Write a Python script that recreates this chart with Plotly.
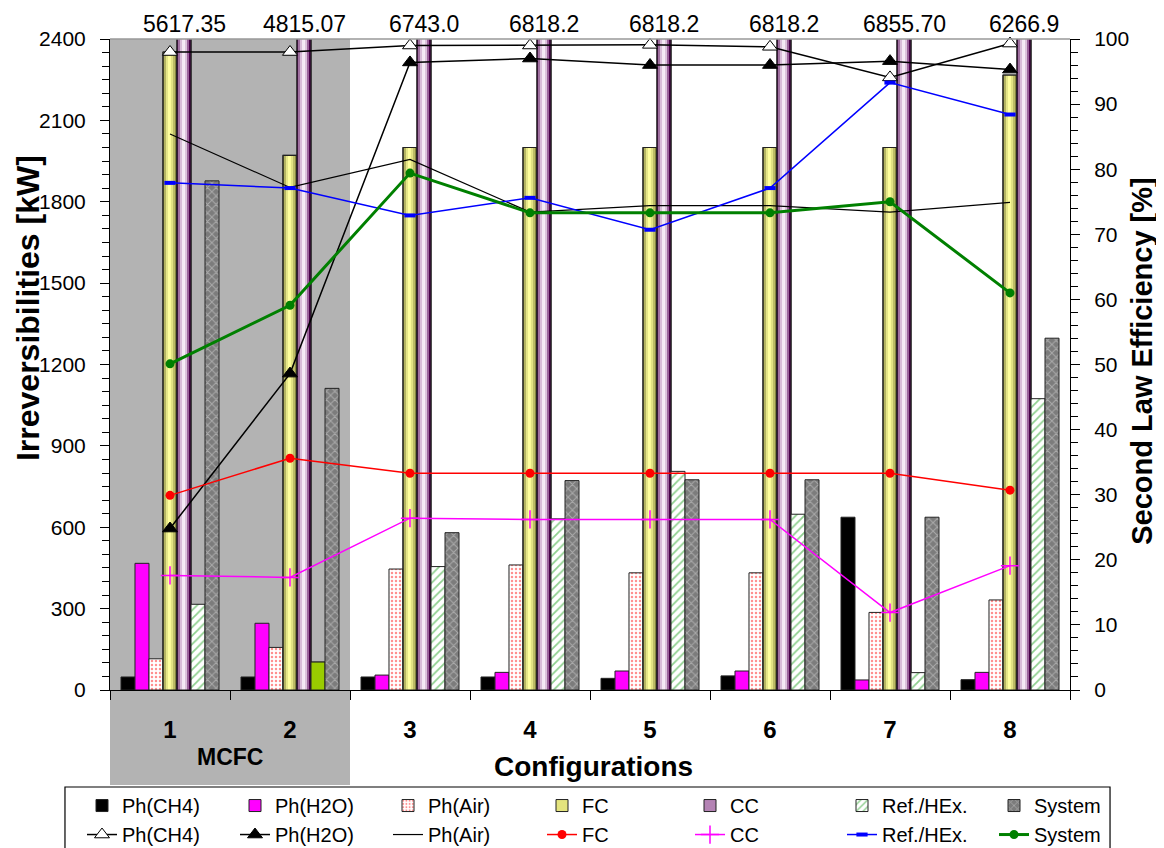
import plotly.graph_objects as go

# ---------------- data ----------------
configs = ["1", "2", "3", "4", "5", "6", "7", "8"]
series_names = ["Ph(CH4)", "Ph(H2O)", "Ph(Air)", "FC", "CC", "Ref./HEx.", "System"]

# Irreversibilities [kW] (bars, left axis)
ph_ch4_irr = [48, 48, 48, 48, 43, 52, 637, 38]
ph_h2o_irr = [467, 246, 55, 65, 70, 70, 37, 65]
ph_air_irr = [115, 157, 446, 461, 432, 432, 286, 332]
fc_irr = [2352, 1971, 2000, 2000, 2000, 2000, 2000, 2267]
cc_labels = ["5617.35", "4815.07", "6743.0", "6818.2", "6818.2", "6818.2", "6855.70", "6266.9"]
cc_irr = [5617.35, 4815.07, 6743.0, 6818.2, 6818.2, 6818.2, 6855.70, 6266.9]
ref_irr = [316, 103, 455, 631, 806, 648, 64, 1074]
sys_irr = [1877, 1112, 580, 772, 775, 775, 637, 1297]

# Second law efficiency [%] (lines, right axis)
ph_ch4_eff = [98.0, 98.0, 99.0, 99.0, 99.1, 98.8, 94.1, 99.3]
ph_h2o_eff = [24.8, 48.6, 96.4, 97.0, 96.0, 96.0, 96.6, 95.3]
ph_air_eff = [85.4, 77.2, 81.5, 73.4, 74.4, 74.4, 73.4, 74.9]
fc_eff = [29.9, 35.6, 33.3, 33.3, 33.3, 33.3, 33.3, 30.7]
cc_eff = [17.6, 17.3, 26.4, 26.2, 26.2, 26.2, 11.9, 19.1]
ref_eff = [77.9, 77.1, 72.9, 75.6, 70.7, 77.1, 93.3, 88.4]
sys_eff = [50.1, 59.1, 79.4, 73.3, 73.3, 73.3, 75.0, 61.0]

# ---------------- styling ----------------
FONT = "Liberation Sans, Arial, sans-serif"
W = 0.1167                     # bar width (category units)
def off(j):
    return (j - 3.5) * W       # left edge of j-th bar of the 7-bar group

LEG = ["legend", "legend2", "legend3", "legend4", "legend5", "legend6", "legend7"]

fc_grad = ["#75753a", "#b4b462", "#e6e688", "#ffff9c", "#fbfb96", "#e2e282", "#bcbc66", "#85853f"]
cc_grad = ["#5a0a5a", "#a070a0", "#d8bcd8", "#f4e8f4", "#f6ecf6", "#dcc2dc", "#9a629a", "#4a004a"]

fig = go.Figure()
outline = dict(color="#222222", width=1)

def add_bar(j, y, **marker):
    m = dict(line=outline)
    m.update(marker)
    fig.add_trace(go.Bar(x=configs, y=y, name=series_names[j], offset=off(j), width=W,
                         marker=m, yaxis="y", legend=LEG[j]))

add_bar(0, ph_ch4_irr, color="black")
add_bar(1, ph_h2o_irr, color="#ff00ff")
add_bar(2, ph_air_irr, color="white",
        pattern=dict(shape=".", fgcolor="#ff2020", bgcolor="white", size=4, solidity=0.3))

def add_gradient_bar(j, y, grad, legend_color):
    fig.add_trace(go.Bar(x=configs, y=y, name=series_names[j], offset=off(j), width=W,
                         marker=dict(color=legend_color, line=outline), yaxis="y",
                         legend=LEG[j]))
    n = len(grad)
    for k, c in enumerate(grad):
        fig.add_trace(go.Bar(x=configs, y=y, offset=off(j) + k * W / n, width=W / n,
                             marker=dict(color=c, line=dict(width=0)), showlegend=False,
                             hoverinfo="skip", yaxis="y"))
    fig.add_trace(go.Bar(x=configs, y=y, offset=off(j), width=W,
                         marker=dict(color="rgba(0,0,0,0)", line=dict(color="#222222", width=1.2)),
                         showlegend=False, hoverinfo="skip", yaxis="y"))

add_gradient_bar(3, fc_irr, fc_grad, "#e4e47e")
add_gradient_bar(4, cc_irr, cc_grad, "#b483b4")

add_bar(5, ref_irr, color="white",
        pattern=dict(shape="/", fgcolor="#1fa01f", bgcolor="white", size=6, solidity=0.3))
# configuration 2 heat-exchanger bar drawn in solid yellow-green
ref_solid = [v if i == 1 else None for i, v in enumerate(ref_irr)]
fig.add_trace(go.Bar(x=configs, y=ref_solid, offset=off(5), width=W, showlegend=False,
                     marker=dict(color="#99cc00", line=outline), hoverinfo="skip", yaxis="y"))
add_bar(6, sys_irr, color="#8a8a8a",
        pattern=dict(shape="x", fgcolor="#d8d8d8", bgcolor="#7c7c7c", size=6, solidity=0.3))

def add_line(j, y, line, marker=None, mode="lines+markers"):
    fig.add_trace(go.Scatter(x=configs, y=y, name=series_names[j], mode=mode, line=line,
                             marker=marker or {}, yaxis="y2", cliponaxis=False,
                             legend=LEG[j]))

add_line(0, ph_ch4_eff, dict(color="black", width=1.5),
         dict(symbol="triangle-up", size=13, color="white", line=dict(color="black", width=1)))
add_line(1, ph_h2o_eff, dict(color="black", width=1.5),
         dict(symbol="triangle-up", size=13, color="black", line=dict(color="black", width=1)))
add_line(2, ph_air_eff, dict(color="black", width=1.2), mode="lines")
add_line(3, fc_eff, dict(color="#ff0000", width=1.5),
         dict(symbol="circle", size=9, color="#ff0000"))
add_line(4, cc_eff, dict(color="#ff00ff", width=1.5),
         dict(symbol="cross-thin", size=13, color="#ff00ff", line=dict(color="#ff00ff", width=1.5)))
add_line(5, ref_eff, dict(color="#0000ff", width=1.5),
         dict(symbol="line-ew", size=8, color="#0000ff", line=dict(color="#0000ff", width=4)))
add_line(6, sys_eff, dict(color="#008000", width=3),
         dict(symbol="circle", size=9, color="#008000"))

# ---------------- annotations ----------------
annotations = []
for i, lab in enumerate(cc_labels):
    annotations.append(dict(x=i + off(4) + W / 2, y=1, xref="x", yref="paper",
                            text=lab, showarrow=False, xanchor="center", yanchor="bottom",
                            yshift=0, font=dict(family=FONT, size=23, color="black")))
annotations += [
    dict(x=-0.0859, y=0.586, xref="paper", yref="paper", text="<b>Irreversibilities [kW]</b>",
         textangle=-90, showarrow=False, xanchor="center", yanchor="middle",
         font=dict(family=FONT, size=32, color="black")),
    dict(x=1.0755, y=0.505, xref="paper", yref="paper", text="<b>Second Law Efficiency [%]</b>",
         textangle=-90, showarrow=False, xanchor="center", yanchor="middle",
         font=dict(family=FONT, size=29, color="black")),
    dict(x=0.504, y=-0.118, xref="paper", yref="paper", text="<b>Configurations</b>",
         showarrow=False, xanchor="center", yanchor="middle",
         font=dict(family=FONT, size=28, color="black")),
    dict(x=0.5, y=-0.103, xref="x", yref="paper", text="<b>MCFC</b>",
         showarrow=False, xanchor="center", yanchor="middle",
         font=dict(family=FONT, size=23, color="black")),
]

shapes = [
    dict(type="rect", xref="x", yref="paper", x0=-0.5, x1=1.5, y0=-0.146, y1=1,
         fillcolor="#b3b3b3", line=dict(width=0), layer="below"),
    dict(type="line", xref="paper", yref="paper", x0=0, x1=1, y0=1, y1=1,
         line=dict(color="#999999", width=1.5)),
    # legend frame
    dict(type="rect", xref="paper", yref="paper", x0=-0.0469, x1=1.0417, y0=-0.149, y1=-0.27,
         fillcolor="white", line=dict(color="black", width=1.2), layer="above"),
]

legend_x_px = [74, 227, 380, 534, 682, 834, 986]
legends = {}
for j, name in enumerate(LEG):
    legends[name] = dict(orientation="v", xref="container", yref="container",
                         x=legend_x_px[j] / 1164, xanchor="left", y=0.0825, yanchor="top",
                         bgcolor="rgba(0,0,0,0)", borderwidth=0, tracegroupgap=0,
                         itemwidth=30, traceorder="normal",
                         font=dict(family=FONT, size=20, color="black"))

fig.update_layout(
    width=1164, height=848,
    margin=dict(l=102, r=102, t=31, b=166, autoexpand=False),
    paper_bgcolor="white", plot_bgcolor="white",
    font=dict(family=FONT, size=21, color="black"),
    barmode="group",
    showlegend=True,
    xaxis=dict(type="category", categoryorder="array", categoryarray=configs,
               range=[-0.5, 7.5], tickson="boundaries", ticks="outside", ticklen=9,
               tickcolor="black", showline=True, linecolor="black", linewidth=1,
               showgrid=False, zeroline=False, ticklabelstandoff=18,
               tickfont=dict(family=FONT, size=24, color="black", weight="bold")),
    yaxis=dict(range=[0, 2400], dtick=300, tick0=0, ticks="outside", ticklen=9,
               tickcolor="black", showline=True, linecolor="black", linewidth=1,
               showgrid=False, zeroline=False, ticklabelstandoff=10,
               minor=dict(dtick=50, ticks="outside", ticklen=7, tickcolor="black"),
               tickfont=dict(family=FONT, size=21, color="black")),
    yaxis2=dict(range=[0, 100], dtick=10, tick0=0, overlaying="y", side="right",
                ticks="outside", ticklen=9, tickcolor="black", showline=True,
                linecolor="black", linewidth=1, showgrid=False, zeroline=False,
                ticklabelstandoff=10,
                minor=dict(dtick=2, ticks="outside", ticklen=7, tickcolor="black"),
                tickfont=dict(family=FONT, size=21, color="black")),
    annotations=annotations,
    shapes=shapes,
    **legends,
)

fig.write_html("out.html")
